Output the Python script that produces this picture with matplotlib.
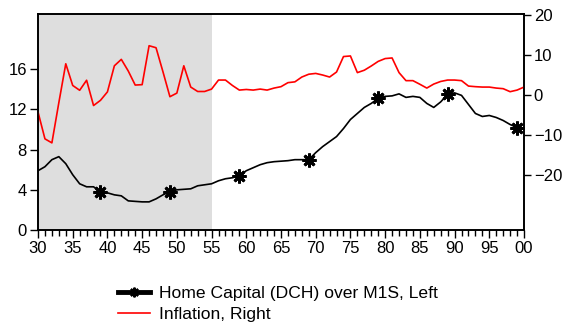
import matplotlib
matplotlib.use("Agg")
import matplotlib.pyplot as plt
from matplotlib.lines import Line2D
from matplotlib.ticker import MultipleLocator

plt.rcParams['font.family'] = ['Liberation Sans', 'DejaVu Sans']

# Home capital (DCH) over M1S, left axis, 1930-1999
dch_years = list(range(1930, 2000))
dch_m1s = [5.9, 6.3, 7.0, 7.3, 6.6, 5.5, 4.6, 4.3, 4.3, 3.8,
           3.7, 3.5, 3.4, 2.9, 2.85, 2.8, 2.8, 3.1, 3.5, 3.8,
           4.0, 4.05, 4.1, 4.4, 4.5, 4.6, 4.9, 5.1, 5.2, 5.4,
           5.9, 6.2, 6.5, 6.7, 6.8, 6.85, 6.9, 7.0, 7.0, 7.0,
           7.7, 8.3, 8.8, 9.3, 10.1, 11.0, 11.6, 12.2, 12.6, 13.1,
           13.3, 13.35, 13.55, 13.2, 13.3, 13.2, 12.6, 12.2, 12.75, 13.5,
           13.65, 13.4, 12.5, 11.6, 11.3, 11.4, 11.2, 10.9, 10.5, 10.2]

# Inflation, right axis, 1930-2000
infl_years = list(range(1930, 2001))
inflation = [-4.2, -10.9, -11.9, -1.9, 7.8, 2.4, 1.2, 3.7, -2.6, -1.3,
             0.8, 7.3, 8.9, 6.0, 2.5, 2.6, 12.3, 11.8, 5.8, -0.4,
             0.5, 7.3, 2.0, 0.9, 0.9, 1.5, 3.75, 3.75, 2.4, 1.25,
             1.4, 1.25, 1.5, 1.25, 1.75, 2.1, 3.1, 3.3, 4.5, 5.2,
             5.4, 5.0, 4.5, 5.75, 9.6, 9.75, 5.6, 6.2, 7.25, 8.4,
             9.1, 9.25, 5.6, 3.6, 3.6, 2.7, 1.75, 2.75, 3.4, 3.75,
             3.75, 3.6, 2.25, 2.1, 2.0, 2.0, 1.75, 1.6, 0.85, 1.25,
             2.0]

shade_start, shade_end = 1930, 1955
star = (8, 2, 0)

fig = plt.figure(figsize=(5.65, 3.27), dpi=100)
ax = fig.add_axes([38 / 565, 1 - 230 / 327, (524 - 38) / 565, (230 - 14) / 327])
ax2 = ax.twinx()

ax.axvspan(shade_start, shade_end, color='#DEDEDE', lw=0, zorder=0)
ax.plot(dch_years, dch_m1s, color='black', lw=1.2,
        marker=star, ms=10, mew=2, markevery=list(range(9, len(dch_years), 10)))
ax2.plot(infl_years, inflation, color='#FF0000', lw=1.2)

ax.set_xlim(1930, 2000)
ax.set_ylim(0, 21.5)
ax2.set_ylim(-33.6, 20.2)

ax.set_yticks([0, 4, 8, 12, 16])
ax2.set_yticks([-20, -10, 0, 10, 20])
ax.set_xticks(range(1930, 2001, 5))
ax.set_xticklabels([f"{y % 100:02d}" for y in range(1930, 2001, 5)])
ax.xaxis.set_minor_locator(MultipleLocator(1))

ax.tick_params(axis='both', which='major', direction='out', labelsize=12, length=6, width=1, pad=2)
ax.tick_params(axis='x', which='minor', direction='out', length=4, width=1)
ax2.tick_params(axis='y', direction='out', labelsize=12, length=5, width=1, pad=2)
for a in (ax, ax2):
    for s in a.spines.values():
        s.set_linewidth(1.2)

handles = [Line2D([], [], color='black', lw=3.5, marker=star, ms=7, mew=1.5),
           Line2D([], [], color='#FF0000', lw=1.2)]
labels = ['Home Capital (DCH) over M1S, Left', 'Inflation, Right']
ax.legend(handles, labels, loc='upper left', bbox_to_anchor=(118 / 565, 1 - 286 / 327),
          bbox_transform=fig.transFigure, frameon=False, fontsize=12.6,
          handlelength=1.8, handletextpad=0.55, labelspacing=0.3,
          borderpad=0, borderaxespad=0)

fig.savefig('out.png', dpi=100)
